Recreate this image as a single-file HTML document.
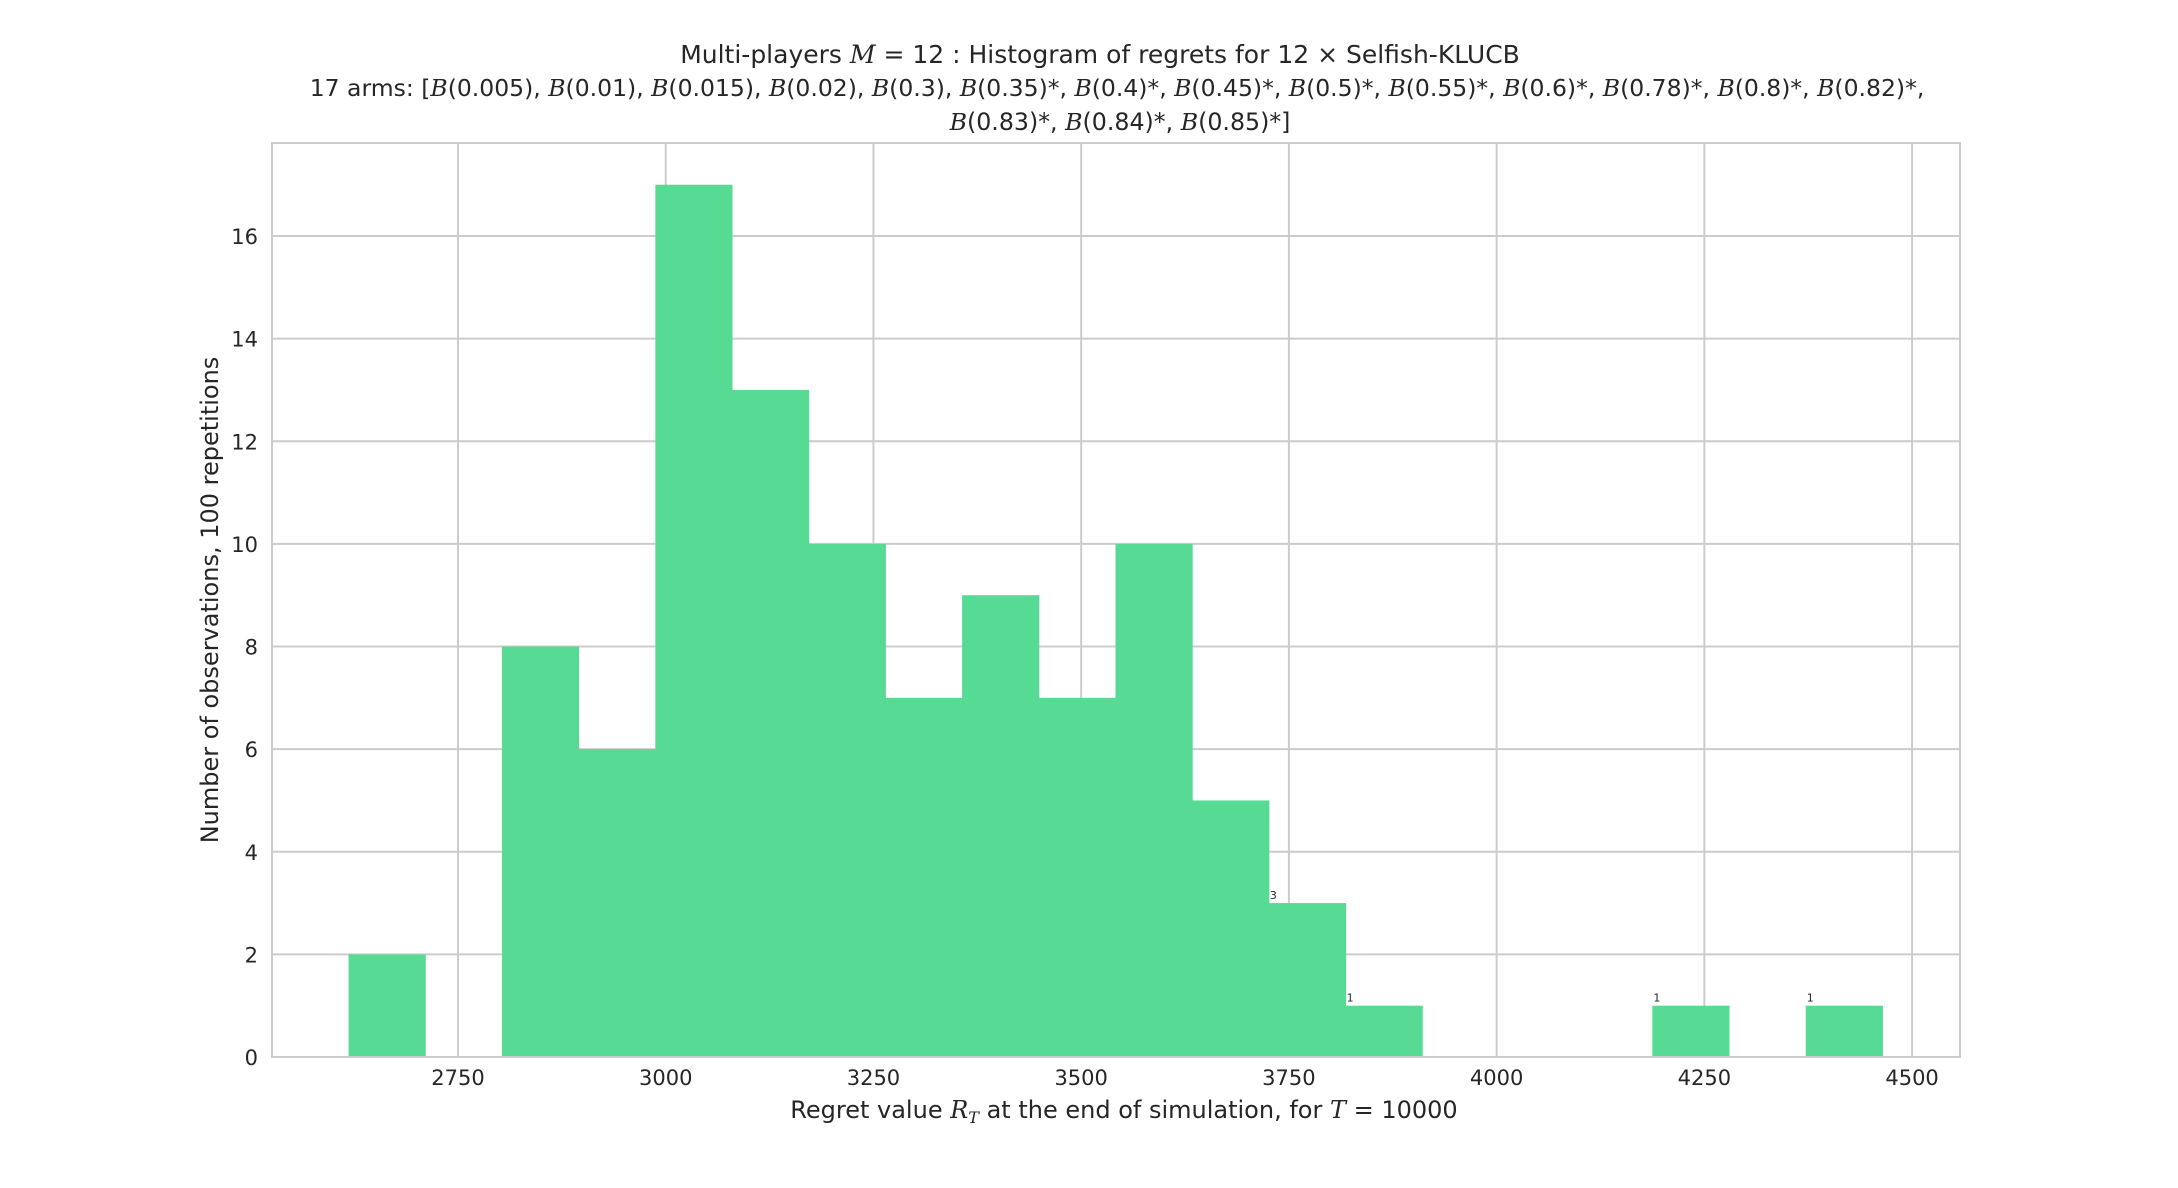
<!DOCTYPE html>
<html><head><meta charset="utf-8"><style>
html,body{margin:0;padding:0;background:#fff;}
svg{display:block;font-family:"DejaVu Sans","Liberation Sans",sans-serif;}
.m{font-family:"DejaVu Serif","Liberation Serif",serif;font-style:italic;}
</style></head><body>
<svg id="chart" width="2178" height="1188" viewBox="0 0 2178 1188" xmlns="http://www.w3.org/2000/svg">
<g fill="#262626" text-anchor="middle">
<text x="1100" y="63" font-size="25">Multi-players <tspan class="m">M</tspan> = 12 : Histogram of regrets for 12 × Selfish-KLUCB</text>
<text x="1117" y="96" font-size="23.5">17 arms: [<tspan class="m">B</tspan>(0.005), <tspan class="m">B</tspan>(0.01), <tspan class="m">B</tspan>(0.015), <tspan class="m">B</tspan>(0.02), <tspan class="m">B</tspan>(0.3), <tspan class="m">B</tspan>(0.35)*, <tspan class="m">B</tspan>(0.4)*, <tspan class="m">B</tspan>(0.45)*, <tspan class="m">B</tspan>(0.5)*, <tspan class="m">B</tspan>(0.55)*, <tspan class="m">B</tspan>(0.6)*, <tspan class="m">B</tspan>(0.78)*, <tspan class="m">B</tspan>(0.8)*, <tspan class="m">B</tspan>(0.82)*,</text>
<text x="1120" y="130" font-size="23.7"><tspan class="m">B</tspan>(0.83)*, <tspan class="m">B</tspan>(0.84)*, <tspan class="m">B</tspan>(0.85)*]</text>
</g>
<g id="grid"></g>
<g id="bars"></g>
<rect x="272" y="143" width="1688" height="914" fill="none" stroke="#cccccc" stroke-width="2"/>
<g id="ticks" fill="#262626" font-size="21"></g>
<text x="1124" y="1118" font-size="24" fill="#262626" text-anchor="middle">Regret value <tspan class="m">R<tspan font-size="16" dy="5">T</tspan></tspan><tspan dy="-5"> at the end of simulation, for </tspan><tspan class="m">T</tspan> = 10000</text>
<text transform="translate(218,600) rotate(-90)" font-size="24" fill="#262626" text-anchor="middle">Number of observations, 100 repetitions</text>
</svg>
<script>
const binStart = 2618.3;
const binWidth = 92.3;
const counts = [2,0,8,6,17,13,10,7,9,7,10,5,3,1,0,0,0,1,0,1];
const annotated = [12,13,17,19];
const xTicks = [2750,3000,3250,3500,3750,4000,4250,4500];
const yTicks = [0,2,4,6,8,10,12,14,16];
const NS="http://www.w3.org/2000/svg";
const X0=272,X1=1960,Y0=143,Y1=1057;
const xv0=2750,xp0=458,xk=0.8309;
function x(v){return xp0+(v-xv0)*xk;}
function y(c){return Y1-c*51.31;}
function mk(tag,attrs,parent){const e=document.createElementNS(NS,tag);for(const k in attrs)e.setAttribute(k,attrs[k]);parent.appendChild(e);return e;}
const grid=document.getElementById('grid'),bars=document.getElementById('bars'),ticks=document.getElementById('ticks');
xTicks.forEach(v=>{
 const l=mk('line',{x1:x(v),x2:x(v),y1:Y0,y2:Y1,stroke:'#cccccc','stroke-width':2},grid);
 
 
 const t=mk('text',{x:x(v),y:Y1+28,'text-anchor':'middle'},ticks);t.textContent=v;
 
 
});
yTicks.forEach(v=>{
 const l=mk('line',{x1:X0,x2:X1,y1:y(v),y2:y(v),stroke:'#cccccc','stroke-width':2},grid);
 
 
 const t=mk('text',{x:258,y:y(v)+8,'text-anchor':'end'},ticks);t.textContent=v;
 
 
});
counts.forEach((c,i)=>{
 if(c<=0)return;
 const a=x(binStart+i*binWidth),b=x(binStart+(i+1)*binWidth);
 const r=mk('rect',{x:a,y:y(c),width:b-a+0.5,height:Y1-y(c),fill:'#57db94'},bars);
 
 
 if(annotated.includes(i)){
  const t=mk('text',{x:a+1,y:y(c)-4,'font-size':11,fill:'#262626'},bars);t.textContent=c;
  
  
 }
});
</script>
</body></html>
